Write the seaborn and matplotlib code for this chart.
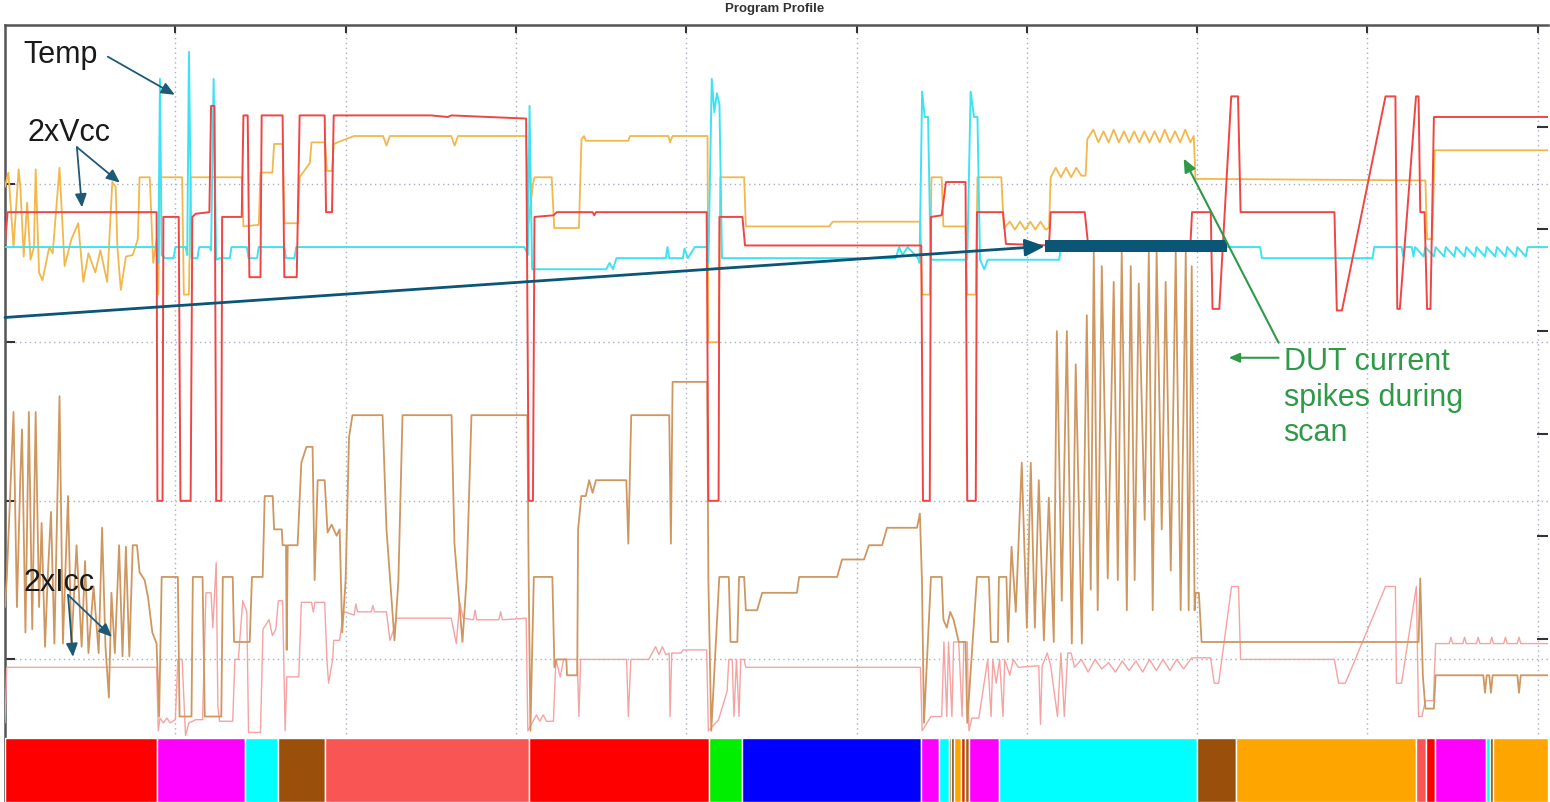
import pandas as pd
import matplotlib.pyplot as plt
import seaborn as sns

# traces: (time, level), 100 units per grid division
temp = [(0, 360), (89, 360), (90, 350), (91, 466), (92, 355), (94, 353), (99, 353), (100, 360), (106, 360),
        (107, 355), (108, 483), (109.5, 353), (113, 353), (114, 360), (120, 360), (121, 358), (122.5, 466),
        (124, 352), (126, 353), (132, 353), (133, 360), (142, 360), (143, 353), (148, 353), (149, 360),
        (164, 360), (165, 353), (170, 353), (171, 360), (305, 360), (307, 355), (308, 449), (309.5, 346),
        (353, 346), (355, 350), (357, 346), (359, 353), (388, 353), (389, 360), (390, 353), (398, 353),
        (399, 359), (401, 353), (405, 360), (412, 360), (413, 350), (415, 466), (416.5, 445), (418, 457),
        (419.5, 450), (421, 353), (523, 353), (525, 360), (527, 355), (530, 360), (536, 353), (537, 350),
        (538.5, 458), (540, 442), (542, 442), (543.5, 352), (565, 352), (567, 458), (569, 442), (571, 442),
        (572.5, 352), (575, 346), (577, 352), (619, 352), (620, 360), (737, 360), (738, 353), (803, 353),
        (804, 360), (820, 360), (821, 354), (822, 360), (826, 360), (827, 354), (828, 360), (833, 354),
        (834, 360), (839, 354), (840, 360), (845, 354), (846, 360), (851, 354), (852, 360), (857, 354),
        (858, 360), (863, 354), (864, 360), (869, 354), (870, 360), (875, 354), (876, 360), (881, 354),
        (882, 360), (887, 354), (888, 360), (893, 354), (894, 360), (906, 360)]

vcc_a = [(0, 362), (1.5, 382), (89, 382), (89.5, 200), (92.5, 200), (93, 379), (102, 379), (103, 200),
         (109, 200), (110, 379), (112, 381), (120, 382), (121, 449), (123, 449), (124, 200), (127, 200),
         (127.5, 379), (139, 379), (140, 443), (142.5, 443), (143.5, 341), (150, 341), (150.7, 443),
         (163, 443), (164, 341), (171.3, 341), (173, 443), (187.7, 443), (188.5, 382), (192, 382),
         (193, 443), (250, 443), (260, 442), (262, 443), (306, 441), (307.5, 200), (310, 200), (310.9, 379),
         (322, 380), (324, 382), (345, 382), (346, 380), (347, 382), (412, 382), (413, 200), (419, 200),
         (419.5, 379), (433, 379), (434.5, 361), (538, 361), (539, 200), (543, 200), (543.7, 379),
         (550, 380), (552.5, 401), (564, 401), (565, 200), (570, 200), (570.7, 382), (586, 382),
         (587.7, 362), (613, 361), (614, 382), (634, 382), (636, 361), (696, 361), (697, 382), (708, 382),
         (709, 321), (713, 321), (720, 455), (724, 455), (725.5, 382), (780.6, 382), (782, 320), (785, 320),
         (810.6, 455), (816.4, 455), (817.5, 321), (819, 321), (828.5, 455), (830, 455), (831, 382),
         (833.5, 382), (835, 321), (837, 321), (839, 442), (906, 442)]

vcc_b = [(0, 398), (2, 407), (5, 360), (8, 409), (9, 398), (11, 354), (13, 388), (15, 352), (17, 360),
         (18, 409), (20, 344), (22, 339), (26, 360), (28, 356), (32, 410), (35, 348), (39, 365), (43, 375),
         (46, 338), (49, 356), (53, 344), (56, 358), (60, 338), (63, 401), (65, 398), (66, 360), (68, 333),
         (71, 354), (75, 355), (78, 365), (79, 404), (85, 404), (87, 350), (89, 365), (90, 330), (91, 404),
         (104, 404), (105, 330), (108, 330), (109, 404), (139, 404), (140, 373), (149, 374), (150, 407),
         (157, 407), (158, 425), (163, 425), (164, 375), (172, 375), (173, 404), (175, 407), (179, 413),
         (180, 426), (188, 426), (189, 408), (192, 408), (193, 425), (200, 428), (205, 430), (222, 430),
         (224, 424), (226, 430), (262, 430), (264, 424), (266, 430), (306, 430), (307.5, 375), (310, 400),
         (311, 404), (321, 404), (322.5, 372), (337, 372), (338.5, 428), (340, 430), (341, 427), (366, 427),
         (367, 430), (389.5, 430), (390.5, 426), (392, 430), (412.5, 430), (413, 300), (419, 300),
         (420, 404), (434, 404), (435, 373), (484, 373), (486, 376), (537.5, 376), (538.5, 330), (543, 330),
         (544, 404), (550, 404), (551, 373), (564, 373), (565, 330), (570, 330), (571, 404), (585, 404),
         (586.5, 372), (590, 376), (593, 371), (596, 376), (599, 371), (602, 376), (605, 371), (608, 376),
         (611, 371), (613, 372), (614, 404), (617, 410), (620, 404), (623, 410), (626, 404), (629, 410),
         (632, 405), (634.5, 405), (635.5, 428), (639, 434), (642, 426), (645, 433), (648, 426), (651, 434),
         (654, 426), (657, 433), (660, 426), (663, 433), (666, 426), (669, 433), (672, 426), (675, 433),
         (678, 426), (681, 434), (684, 426), (687, 433), (690, 426), (693, 434), (696, 426), (698, 430),
         (699, 403), (834, 402), (835, 365), (838, 365), (839.5, 421), (906, 421)]

icc_a = [(0, 133), (1, 150), (5, 256), (7, 133), (9, 215), (10, 245), (12, 117), (14, 256), (16, 119),
         (18, 256), (20, 133), (21.5, 186), (23.5, 108), (25, 150), (27, 193), (29, 110), (32, 266),
         (34, 110), (37, 203), (39, 108), (42, 172), (45, 108), (47, 162), (49, 104), (52, 146), (55, 104),
         (57, 183), (59, 108), (61, 76), (62.5, 142), (64.5, 104), (67, 172), (69, 102), (71, 171), (73, 102),
         (75, 172), (77.5, 172), (79, 155), (82, 150), (84, 139), (86.5, 117), (89, 110), (90.5, 64),
         (92, 152), (101.5, 152), (102.5, 64), (109.5, 64), (110.3, 152), (116, 152), (117.3, 64), (127, 64),
         (127.9, 152), (133.7, 152), (134.5, 111), (143.7, 111), (145, 152), (151.3, 152), (152.5, 203),
         (157.2, 203), (158, 182), (162.5, 182), (163, 172), (165, 172), (165.4, 106), (166, 172),
         (171.8, 172), (174, 224), (177, 234), (180.6, 234), (181.8, 150), (183.6, 213), (187.7, 213),
         (189.4, 180), (191.8, 185), (194.7, 178), (196.5, 182), (198, 117), (200, 150), (202, 240),
         (204, 254), (221.7, 254), (224, 182), (228.7, 112), (231, 150), (233.4, 254), (262.2, 254),
         (263.9, 173), (268.6, 111), (271, 150), (273.9, 254), (306.7, 254), (307.5, 150), (308.5, 55),
         (310.5, 152), (321.4, 152), (322.6, 95), (324, 100), (329.6, 100), (330, 90), (336, 90),
         (336.5, 182), (338.4, 203), (341, 203), (343, 213), (345, 205), (347, 213), (364.8, 213),
         (366, 173), (367.7, 254), (390, 254), (391, 173), (392, 275), (412.3, 275), (413, 150), (414.7, 55),
         (419.4, 152), (425, 152), (426, 111), (430, 111), (431, 152), (434, 152), (435, 131), (441.6, 131),
         (444.6, 142), (465, 142), (466.3, 152), (488.6, 152), (491.5, 163), (504.4, 163), (507.3, 172),
         (515, 172), (517.9, 183), (535.5, 183), (537.2, 192), (538.4, 150), (539.6, 60), (543.7, 152),
         (550, 152), (551, 125), (553, 120), (555, 130), (557, 125), (560, 111), (564, 111), (565, 60),
         (570.7, 152), (577.7, 152), (578.9, 111), (583, 111), (583.6, 152), (588, 152), (589, 111),
         (591, 171), (593.5, 130), (597, 224), (600, 120), (602.3, 224), (604.7, 120), (607, 213),
         (610, 112), (612.9, 202), (615.8, 111), (617.6, 307), (620.5, 137), (623.5, 307), (626.4, 110),
         (628.7, 286), (632.3, 110), (635.2, 317), (637.5, 144), (639.3, 357), (641.6, 131), (644, 348),
         (647.5, 151), (651, 338), (653.4, 150), (655.7, 357), (658.7, 131), (661, 348), (663.3, 150),
         (665.7, 337), (669.2, 188), (671.6, 357), (673.9, 131), (676.2, 357), (679.2, 182), (681.5, 338),
         (684.5, 156), (687.4, 357), (690.3, 131), (693.3, 357), (695, 131), (696.8, 348), (698.5, 131),
         (699.1, 142), (701, 142), (702.6, 111), (830, 111), (831, 151), (832.5, 90), (834, 69), (839, 69),
         (840, 90), (868, 90), (869, 79), (870, 90), (871.5, 90), (872.5, 79), (873.5, 90), (888, 90),
         (889, 79), (890, 90), (906, 90)]

icc_b = [(0, 60), (1, 95), (89, 95), (90, 55), (91, 63), (93, 60), (95, 63), (97, 60), (100, 62),
         (101.5, 100), (104, 100), (106, 52), (108, 60), (112, 62), (116, 62), (118, 142), (121, 142),
         (122, 120), (124, 161), (125, 70), (126, 61), (133.7, 61), (135, 100), (137, 100), (139.6, 137),
         (142, 130), (143, 54), (150, 54), (151.5, 119), (155, 125), (157, 115), (159, 119), (160.5, 137),
         (163, 137), (164.5, 55), (165.5, 89), (172.5, 89), (174, 136), (180, 136), (181, 130), (182, 136),
         (187.7, 136), (189, 100), (190, 85), (192.4, 100), (193, 112), (196.5, 112), (198.2, 126),
         (199, 130), (205, 128), (206, 135), (207, 130), (215, 130), (216, 134), (217, 130), (224, 130),
         (226, 112), (228, 118), (230, 126), (262, 126), (265, 110), (267, 136), (269, 126), (275, 125),
         (276, 131), (277, 125), (290, 125), (291, 130), (292, 125), (306, 126), (307, 55), (310, 61),
         (312, 65), (314, 61), (316, 65), (318, 61), (322, 61), (323.5, 100), (326, 89), (328, 100),
         (336, 100), (337, 64), (338, 100), (365, 100), (366, 64), (367.5, 100), (378, 100), (380, 104),
         (382, 108), (384, 103), (386, 108), (388, 103), (390, 104), (390.5, 64), (391.5, 104), (397, 104),
         (398, 106), (412, 106), (413, 55), (419, 62), (424, 80), (425, 100), (427, 100), (428, 64),
         (429.5, 100), (431, 64), (432, 100), (434, 100), (435, 95), (537.5, 95), (538.5, 55), (543.7, 64),
         (550, 64), (551.3, 111), (553, 64), (554, 111), (556, 64), (557, 111), (560, 111), (562, 64),
         (563, 111), (565, 111), (566, 55), (567.7, 63), (571.8, 63), (577, 100), (579, 64), (580, 100),
         (582, 85), (584, 100), (586, 64), (587, 100), (590, 90), (592, 100), (595, 95), (607, 96), (608, 59),
         (609, 96), (612, 104), (614, 96), (618, 64), (620, 104), (622, 64), (624, 104), (626, 104),
         (628, 95), (632, 100), (636, 92), (640, 100), (644, 94), (648, 98), (652, 92), (656, 99), (660, 93),
         (664, 99), (668, 92), (672, 100), (676, 93), (680, 100), (684, 93), (688, 100), (692, 94),
         (696.8, 101), (707.9, 101), (710, 85), (712.6, 85), (720.2, 146), (724.3, 146), (725.5, 100),
         (780.6, 100), (783, 85), (787, 85), (810.6, 146), (816.4, 146), (817, 85), (820, 85), (828.7, 146),
         (830, 64), (832, 64), (834, 74), (838.7, 74), (840, 110), (848, 110), (849, 114), (850, 110),
         (856, 110), (857, 114), (858, 110), (864, 110), (865, 114), (866, 110), (872, 110), (873, 114),
         (874, 110), (880, 110), (881, 114), (882, 110), (888, 110), (889, 114), (890, 110), (906, 110)]

# program steps shown as the coloured strip at the bottom
step_start = [0, 89.1, 140.8, 160.1, 187.7, 307.9, 413.5, 432.8, 537.8, 548.4, 554.3, 555.5, 557.2, 561.3,
              563.6, 566, 583.6, 699.7, 722.6, 828.7, 834.6, 839.9, 869.8, 872.1, 873.9]
step_end = step_start[1:] + [906]
step_colors = ['#ff0000', '#ff00ff', '#00ffff', '#9a4f0a', '#f95555', '#ff0000', '#00ee00', '#0000ff',
               '#ff00ff', '#00ffff', '#9a4f0a', '#7a3a05', '#ffa500', '#d03000', '#a06010', '#ff00ff',
               '#00ffff', '#9a4f0a', '#ffa500', '#f95555', '#ff0000', '#ff00ff', '#00ffff', '#7a3a05',
               '#ffa500']

sns.set_style('white')
plt.rcParams['font.family'] = ['Liberation Sans', 'DejaVu Sans']

fig = plt.figure(figsize=(15.5, 8.02), dpi=100)
ax = fig.add_axes([5 / 1550, 0, 1543 / 1550, 777 / 802])

traces = [(icc_b, '#f5a3a3', 1.0), (icc_a, '#cf9760', 1.3), (vcc_b, '#f2b84b', 1.3),
          (temp, '#40e2f2', 1.4), (vcc_a, '#f04545', 1.4)]
for pts, color, lw in traces:
    df = pd.DataFrame(pts, columns=['t', 'v'])
    sns.lineplot(data=df, x='t', y='v', sort=False, estimator=None, color=color,
                 linewidth=lw, ax=ax, zorder=3)

ax.broken_barh([(s, e - s) for s, e in zip(step_start, step_end)], (10, 40.5),
               facecolors=step_colors, zorder=4)

ax.set_xlim(0, 906)
ax.set_ylim(10.1, 500)
ax.set_xlabel('')
ax.set_ylabel('')
ax.set_xticks(range(100, 901, 100))
ax.set_yticks([100, 200, 300, 400])
ax.grid(True, color='#a8aec4', linestyle=(0, (1, 2.5)), linewidth=1.0)
ax.tick_params(axis='x', top=True, bottom=False, labelbottom=False, direction='in',
               length=6, width=1.5, color='#333333')
ax.tick_params(axis='y', left=True, labelleft=False, direction='in', length=7, width=1.5,
               color='#333333')
for side in ['top', 'left']:
    ax.spines[side].set_color('#555555')
    ax.spines[side].set_linewidth(1.8)
ax.spines['right'].set_visible(False)
ax.spines['bottom'].set_visible(False)

ax2 = ax.twinx()
ax2.set_ylim(-0.596, 6.992)
ax2.set_yticks([1, 2, 3, 4, 5, 6])
ax2.tick_params(axis='y', right=True, labelright=False, direction='in', length=8, width=1.5,
                color='#333333')
for s in ax2.spines.values():
    s.set_visible(False)

fig.text(0.5, 1 - 9 / 802, 'Program Profile', fontsize=9.5, weight='bold', ha='center',
         va='center', color='#333333')

# labels and arrows
teal = '#1d5a78'
small_head = dict(arrowstyle='-|>,head_length=0.8,head_width=0.35', color=teal, lw=1.3,
                  mutation_scale=10, shrinkA=0, shrinkB=0)
ax.text(11, 481, 'Temp', fontsize=22, ha='left', va='center', color='#1a1a1a', zorder=6)
ax.annotate('', xy=(99.7, 456), xytext=(60.4, 480), arrowprops=small_head, zorder=6)
ax.text(13.5, 432, '2xVcc', fontsize=22, ha='left', va='center', color='#1a1a1a', zorder=6)
ax.annotate('', xy=(45.2, 385), xytext=(42.2, 423), arrowprops=small_head, zorder=6)
ax.annotate('', xy=(67.4, 400.6), xytext=(42.2, 423), arrowprops=small_head, zorder=6)
ax.text(11, 148, '2xIcc', fontsize=22, ha='left', va='center', color='#1a1a1a', zorder=6)
ax.annotate('', xy=(39.9, 101.6), xytext=(37, 140.7), arrowprops=small_head, zorder=6)
ax.annotate('', xy=(62.8, 114.2), xytext=(37, 140.7), arrowprops=small_head, zorder=6)

blue = '#0b5577'
ax.annotate('', xy=(610.6, 360.5), xytext=(0, 315.6), zorder=6,
            arrowprops=dict(arrowstyle='-|>,head_length=0.8,head_width=0.35', color=blue, lw=2,
                            mutation_scale=15, shrinkA=0, shrinkB=0))
ax.fill_between([610.6, 717.3], 357.1, 364.7, color=blue, lw=0, zorder=6)

green = '#2e9a48'
ax.text(750.7, 265, 'DUT current\nspikes during\nscan', fontsize=22, ha='left', va='center',
        color=green, linespacing=1.25, zorder=6)
ax.annotate('', xy=(692.1, 415.8), xytext=(747.8, 299.7), zorder=6,
            arrowprops=dict(arrowstyle='-|>,head_length=0.8,head_width=0.35', color=green, lw=1.5,
                            mutation_scale=10, shrinkA=0, shrinkB=0))
ax.annotate('', xy=(718.5, 290.2), xytext=(747.8, 290.2), zorder=6,
            arrowprops=dict(arrowstyle='-|>,head_length=0.8,head_width=0.35', color=green, lw=1.5,
                            mutation_scale=8, shrinkA=0, shrinkB=0))

fig.savefig('out.png', dpi=100)
